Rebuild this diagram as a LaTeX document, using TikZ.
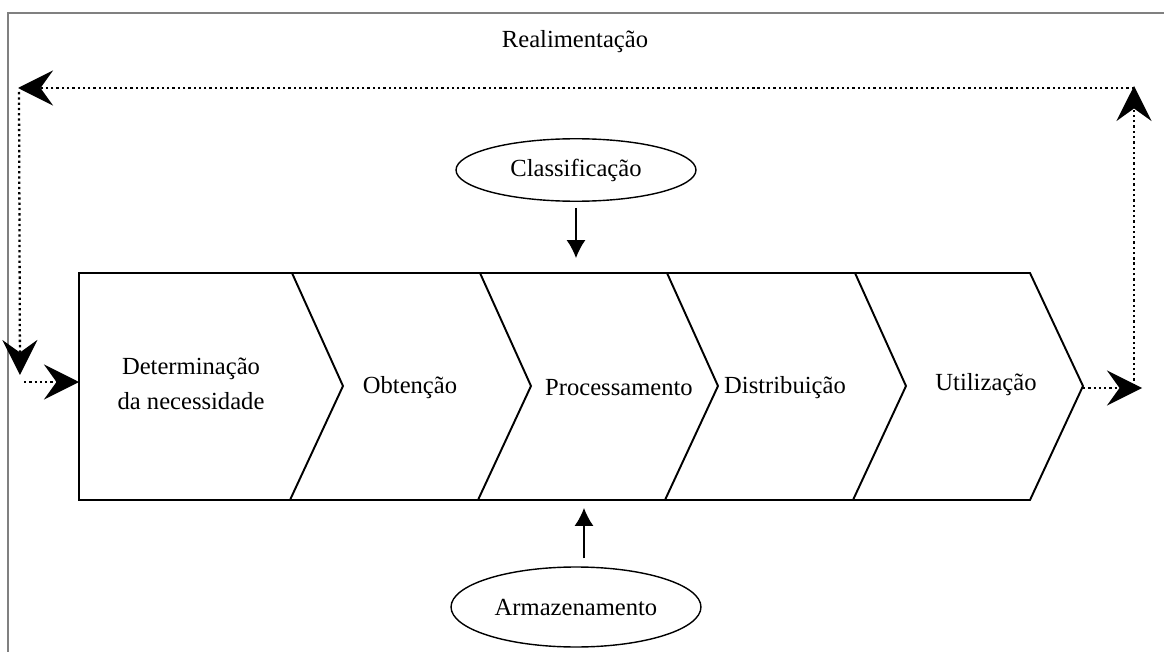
\documentclass[tikz,border=0pt]{standalone}
\usepackage{fontspec}
\setmainfont{Liberation Serif}
\usetikzlibrary{positioning,arrows.meta,shapes.geometric}

\begin{document}
\begin{tikzpicture}[x=0.02cm,y=-0.02cm,
    texto/.style={font=\fontsize{14}{20}\selectfont,align=center},
    elipse/.style={draw,ellipse,line width=0.8pt,inner sep=0pt,font=\fontsize{14}{20}\selectfont},
    banda/.style={line width=1.1pt,line join=miter},
    seta/.style={line width=0.7pt,-{Latex[length=0.36cm,width=0.38cm]}},
    laco/.style={line width=1.3pt,dash pattern=on 1.3pt off 1.7pt,-{Stealth[length=0.7cm,width=0.7cm,inset=0.25cm]}}]
    \useasboundingbox (0,0) rectangle (1164,652);
    \draw[gray,line width=1.5pt] (8,652) -- (8,13) -- (1164,13);

    % faixa com as etapas
    \draw[banda] (79,273) -- (1030,273) -- (1083,386) -- (1030,500) -- (79,500) -- cycle;
    \foreach \x in {292,480,667,855}
        \draw[banda] (\x,273) -- (\x+51,386) -- (\x-2,500);

    \node[texto] (determinacao) at (191,384) {Determinação\\da necessidade};
    \node[texto] (obtencao) at (410,388) {Obtenção};
    \node[texto] (processamento) at (619,388) {Processamento};
    \node[texto] (distribuicao) at (785,388) {Distribuição};
    \node[texto] (utilizacao) at (986,385) {Utilização};

    \node[elipse,minimum width=4.8cm,minimum height=1.25cm] (classificacao) at (576,170) {Classificação};
    \node[elipse,minimum width=5cm,minimum height=1.6cm] (armazenamento) at (576,607) {Armazenamento};
    \coordinate (entrada) at (576,258);
    \coordinate (saida) at (584,508);
    \draw[seta,shorten <=0.12cm] (classificacao) -- (entrada);
    \draw[seta,shorten <=0.16cm] (armazenamento.north -| saida) -- (saida);

    % realimentacao
    \node[texto] (realimentacao) at (575,42) {Realimentação};
    \coordinate (ponta) at (1083,388);
    \coordinate (dir-baixo) at (1142,388);
    \coordinate (dir-canto) at (1134,386);
    \coordinate (dir-cima) at (1134,86);
    \coordinate (topo-inicio) at (1134,88);
    \coordinate (esq-cima) at (18,88);
    \coordinate (esq-inicio) at (19,92);
    \coordinate (esq-baixo) at (20,375);
    \coordinate (esq-canto) at (24,382);
    \coordinate (chegada) at (79,382);
    \draw[laco] (ponta) -- (dir-baixo);
    \draw[laco] (dir-canto) -- (dir-cima);
    \draw[laco] (topo-inicio) -- (esq-cima);
    \draw[laco] (esq-inicio) -- (esq-baixo);
    \draw[laco] (esq-canto) -- (chegada);
\end{tikzpicture}
\end{document}
